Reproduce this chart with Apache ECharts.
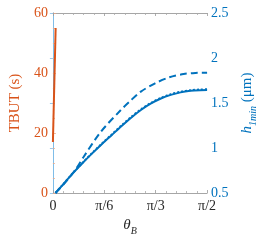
<!DOCTYPE html>
<html>
<head>
<meta charset="utf-8">
<script src="https://cdn.jsdelivr.net/npm/echarts@6/dist/echarts.min.js"></script>
<style>html,body{margin:0;padding:0;background:#fff}#c{width:266px;height:242px}</style>
</head>
<body>
<div id="c"></div>
<script>
// theta_B in radians
const tbutTheta = [0.0, 0.028];
const tbutValues = [17, 55];

const hTheta = [0.026, 0.1, 0.2, 0.3, 0.4, 0.5, 0.6, 0.7, 0.8, 0.9, 1.0, 1.1, 1.2, 1.3, 1.4, 1.5, 1.5708];
const hSolid = [0.5, 0.59, 0.715, 0.83, 0.94, 1.045, 1.145, 1.245, 1.34, 1.425, 1.495, 1.55, 1.59, 1.618, 1.635, 1.643, 1.645];
const hDotted = [0.5, 0.592, 0.718, 0.834, 0.945, 1.05, 1.151, 1.252, 1.347, 1.432, 1.502, 1.557, 1.597, 1.625, 1.642, 1.65, 1.652];
const hDashedTheta = [0.026, 0.1, 0.17, 0.242, 0.314, 0.489, 0.692, 0.779, 0.896, 1.041, 1.187, 1.332, 1.45, 1.5708];
const hDashed = [0.5, 0.585, 0.675, 0.778, 0.903, 1.181, 1.422, 1.514, 1.626, 1.719, 1.786, 1.822, 1.834, 1.837];

const xTickLabels = {0: '0', 30: 'π/6', 60: 'π/3', 90: 'π/2'};

const toDeg = r => r * 180 / Math.PI;
const pair = (xs, ys) => xs.map((x, i) => [toDeg(x), ys[i]]);

const ORANGE = '#D95319';
const BLUE = '#0072BD';
const FONT = "'Liberation Serif', 'DejaVu Serif', serif";

const chart = echarts.init(document.getElementById('c'), null, {renderer: 'canvas'});
const tickCommon = {inside: true, length: 3, lineStyle: {color: '#999', width: 0.8}};
chart.setOption({
  animation: false,
  textStyle: {fontFamily: FONT},
  grid: {left: 39, right: 47, top: 13, bottom: 49, containLabel: false},
  xAxis: [{
    type: 'value', min: 0, max: 90, interval: 30, position: 'bottom',
    axisLine: {show: true, lineStyle: {color: '#a6a6a6', width: 1}},
    axisTick: tickCommon,
    minorTick: {show: true, splitNumber: 5, length: 2, lineStyle: {color: '#aaa', width: 0.8}},
    splitLine: {show: false},
    axisLabel: {formatter: v => xTickLabels[Math.round(v)] || '', color: '#262626', fontFamily: FONT, fontSize: 14, margin: 6},
    name: '{i|θ}{s|B}', nameLocation: 'middle', nameGap: 24,
    nameTextStyle: {color: '#262626', fontFamily: FONT, rich: {
      i: {fontSize: 15, fontStyle: 'italic', fontFamily: FONT, color: '#262626', lineHeight: 16},
      s: {fontSize: 10, fontStyle: 'italic', fontFamily: FONT, color: '#262626', verticalAlign: 'bottom', lineHeight: 10, padding: [0,0,-3,0]}
    }}
  }, {
    type: 'value', min: 0, max: 90, interval: 30, position: 'top',
    axisLine: {show: true, lineStyle: {color: '#a6a6a6', width: 1}},
    axisTick: tickCommon,
    minorTick: {show: true, splitNumber: 5, length: 2, lineStyle: {color: '#aaa', width: 0.8}},
    splitLine: {show: false},
    axisLabel: {show: false}
  }],
  yAxis: [{
    type: 'value', min: 0, max: 60, interval: 20, position: 'left',
    axisLine: {show: true, lineStyle: {color: '#EDA784', width: 1}},
    axisTick: {inside: true, length: 3, lineStyle: {color: '#EDA784', width: 0.8}},
    minorTick: {show: true, splitNumber: 4, length: 2, lineStyle: {color: '#EDA784', width: 0.8}},
    splitLine: {show: false},
    axisLabel: {color: ORANGE, fontFamily: FONT, fontSize: 14, margin: 5},
    name: 'TBUT (s)', nameLocation: 'middle', nameGap: 20,
    nameTextStyle: {color: ORANGE, fontFamily: FONT, fontSize: 15}
  }, {
    type: 'value', min: 0.5, max: 2.5, interval: 0.5, position: 'right',
    axisLine: {show: true, lineStyle: {color: '#7FBDE8', width: 1}},
    axisTick: {inside: true, length: 3, lineStyle: {color: '#7FBDE8', width: 0.8}},
    splitLine: {show: false},
    axisLabel: {color: BLUE, fontFamily: FONT, fontSize: 14, margin: 4},
    name: '{i|h}{s|1min}{n| (μm)}', nameLocation: 'middle', nameGap: 31,
    nameTextStyle: {color: BLUE, fontFamily: FONT, fontSize: 15, rich: {
      i: {fontSize: 15, fontStyle: 'italic', fontFamily: FONT, color: BLUE, lineHeight: 16},
      s: {fontSize: 10, fontStyle: 'italic', fontFamily: FONT, color: BLUE, verticalAlign: 'bottom', lineHeight: 10, padding: [0,0,-3,0]},
      n: {fontSize: 15, fontFamily: FONT, color: BLUE, lineHeight: 16}
    }}
  }],
  series: [{
    type: 'line', xAxisIndex: 0, yAxisIndex: 0, data: pair(tbutTheta, tbutValues),
    showSymbol: false, lineStyle: {color: ORANGE, width: 2}
  }, {
    type: 'line', xAxisIndex: 0, yAxisIndex: 1, data: pair(hDashedTheta, hDashed), smooth: 0.3,
    showSymbol: false, lineStyle: {color: BLUE, width: 2, type: [7, 4]}
  }, {
    type: 'line', xAxisIndex: 0, yAxisIndex: 1, data: pair(hTheta, hSolid), smooth: 0.3,
    showSymbol: false, lineStyle: {color: BLUE, width: 2}
  }, {
    type: 'line', xAxisIndex: 0, yAxisIndex: 1, data: pair(hTheta, hDotted), smooth: 0.3,
    showSymbol: false, lineStyle: {color: BLUE, width: 2, type: [2, 2]}
  }]
});
</script>
</body>
</html>
